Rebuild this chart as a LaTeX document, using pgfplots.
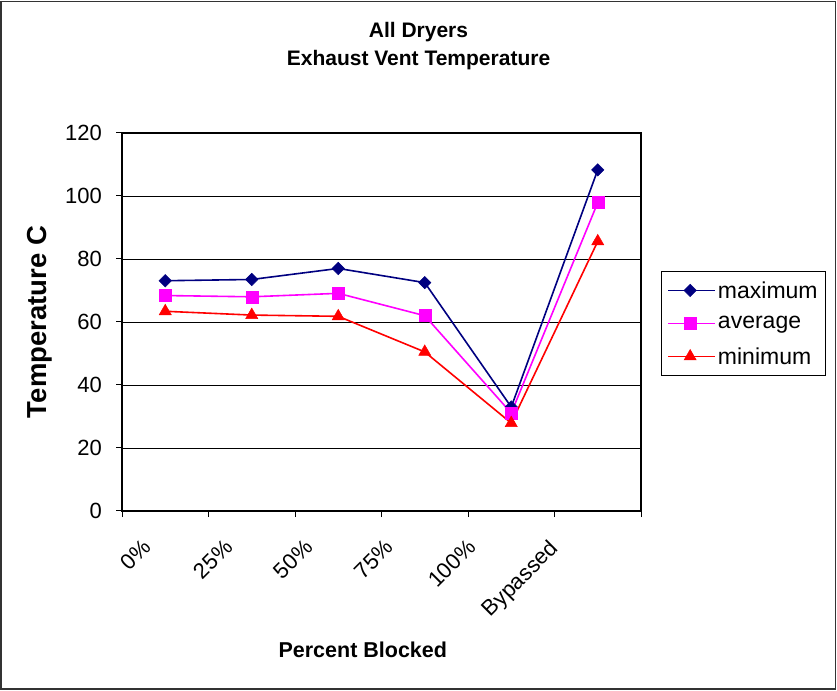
\documentclass[border=0pt]{standalone}
\usepackage{fontspec}
\setmainfont{Liberation Sans}
\usepackage{pgfplots}
\pgfplotsset{compat=1.18}
\definecolor{navyc}{RGB}{0,0,128}
\definecolor{magc}{RGB}{255,0,255}
\definecolor{redc}{RGB}{255,0,0}
\begin{document}
\begin{tikzpicture}[x=1pt,y=1pt]
\path[use as bounding box] (0,0) rectangle (837,690);
\draw[line width=1.3pt, black!80] (1,1) rectangle (835.5,688.5);
\node[anchor=base, font=\fontsize{21}{25}\selectfont\bfseries] at (418.5,652) {All Dryers};
\node[anchor=base, font=\fontsize{21}{25}\selectfont\bfseries] at (418.5,624) {Exhaust Vent Temperature};
\coordinate (AO) at (122pt,179pt);
\begin{axis}[
  at={(AO)}, anchor=south west,
  scale only axis, width=519pt, height=378pt,
  xmin=-0.5, xmax=5.5, ymin=0, ymax=120,
  ytick={0,20,...,120},
  ymajorgrids, grid style={black, line width=0.9pt},
  axis line style={black, line width=1.1pt},
  xtick={-0.176,0.772,1.697,2.633,3.581,4.529},
  xticklabels={0\%,25\%,50\%,75\%,100\%,Bypassed},
  major x tick style={draw=none},
  minor xtick={-0.5,0.5,...,5.5},
  minor tick length=6pt, major tick length=6pt,
  tick align=outside, xtick pos=bottom, ytick pos=left,
  tick style={black, line width=1pt},
  /pgf/number format/assume math mode=true,
  tick label style={font=\fontsize{22}{26}\selectfont},
  x tick label style={yshift=-21pt, xshift=-9pt, rotate=45, anchor=north east, inner sep=0pt},
  y tick label style={anchor=east, inner sep=0pt, xshift=-14pt},
  xlabel={Percent Blocked},
  xlabel style={at={(axis description cs:0.464,-0.368)}, anchor=center, font=\fontsize{21.5}{25}\selectfont\bfseries},
  ylabel={Temperature C},
  ylabel style={at={(axis description cs:-0.158,0.5)}, anchor=center, rotate=0, font=\fontsize{27.5}{31}\selectfont\bfseries},
  legend style={at={(axis description cs:1.0385,0.635)}, anchor=north west, draw=black, line width=0.8pt,
    font=\fontsize{23}{27}\selectfont, row sep=13pt, inner xsep=6pt, inner ysep=8pt},
  legend cell align=left,
  legend image code/.code={\path (0pt,0pt) -- (47pt,0pt);
     \draw[#1, mark=none] (0pt,0pt) -- (44pt,0pt);
     \draw[#1] plot coordinates {(22pt,0pt)};},
  every axis plot/.append style={line width=1.6pt},
]
\addplot[navyc, mark=square*, mark size=4.4pt, mark options={rotate=45, line width=0.5pt}] coordinates {
 (0,73.1) (1,73.5) (2,77.0) (3,72.5) (4,33.0) (5,108.3)};
\addlegendentry{maximum}
\addplot[magc, mark=square*, mark size=6pt, mark options={line width=0.5pt}] coordinates {
 (0,68.4) (1,68.0) (2,69.1) (3,62.0) (4,31.1) (5,97.9)};
\addlegendentry{average}
\addplot[redc, mark=triangle*, mark size=7pt, mark options={line width=0.5pt}] coordinates {
 (0,63.4) (1,62.2) (2,61.8) (3,50.5) (4,27.9) (5,85.6)};
\addlegendentry{minimum}
\end{axis}
\end{tikzpicture}
\end{document}
